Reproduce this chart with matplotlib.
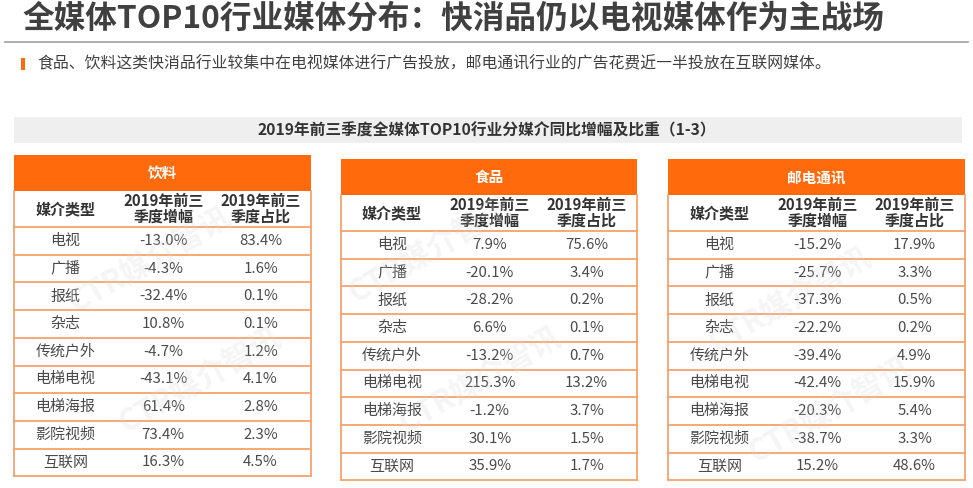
import matplotlib.pyplot as plt
from matplotlib.patches import Rectangle

plt.rcParams['font.family'] = ['Noto Sans CJK SC', 'DejaVu Sans']

# --- datos ---
title = '全媒体TOP10行业媒体分布：快消品仍以电视媒体作为主战场'
subtitle = '食品、饮料这类快消品行业较集中在电视媒体进行广告投放，邮电通讯行业的广告花费近一半投放在互联网媒体。'
banner = '2019年前三季度全媒体TOP10行业分媒介同比增幅及比重（1-3）'
col_headers = ['媒介类型', '2019年前三\n季度增幅', '2019年前三\n季度占比']
media = ['电视', '广播', '报纸', '杂志', '传统户外', '电梯电视', '电梯海报', '影院视频', '互联网']
industries = ['饮料', '食品', '邮电通讯']
growth_drink = ['-13.0%', '-4.3%', '-32.4%', '10.8%', '-4.7%', '-43.1%', '61.4%', '73.4%', '16.3%']
share_drink = ['83.4%', '1.6%', '0.1%', '0.1%', '1.2%', '4.1%', '2.8%', '2.3%', '4.5%']
growth_food = ['7.9%', '-20.1%', '-28.2%', '6.6%', '-13.2%', '215.3%', '-1.2%', '30.1%', '35.9%']
share_food = ['75.6%', '3.4%', '0.2%', '0.1%', '0.7%', '13.2%', '3.7%', '1.5%', '1.7%']
growth_post = ['-15.2%', '-25.7%', '-37.3%', '-22.2%', '-39.4%', '-42.4%', '-20.3%', '-38.7%', '15.2%']
share_post = ['17.9%', '3.3%', '0.5%', '0.2%', '4.9%', '15.9%', '5.4%', '3.3%', '48.6%']

ORANGE = '#FF6A0D'
LINE = '#F5A36C'
TXT = '#4a4a4a'


def draw_table(ax, x0, x1, y0, name, growth, share):
    w = x1 - x0
    head_h = 36
    colh_h = 36
    row_h = 27.7
    col_x = [x0, x0 + w * 0.345, x0 + w * 0.66, x1]
    # cabecera naranja
    ax.add_patch(Rectangle((x0, y0), w, head_h, facecolor=ORANGE, edgecolor='none', zorder=1))
    ax.text((x0 + x1) / 2, y0 + head_h / 2, name, color='white', fontsize=10.5,
            fontweight='bold', ha='center', va='center', zorder=3)
    y = y0 + head_h
    for j, h in enumerate(col_headers):
        ax.text((col_x[j] + col_x[j + 1]) / 2, y + colh_h / 2, h, color='#333333',
                fontsize=10.8, fontweight='bold', ha='center', va='center',
                linespacing=1.0, zorder=3)
    y += colh_h
    ax.plot([x0, x1], [y, y], color=LINE, lw=1.3, zorder=2)
    for i, m in enumerate(media):
        yc = y + row_h * (i + 0.5)
        for j, v in enumerate([m, growth[i], share[i]]):
            ax.text((col_x[j] + col_x[j + 1]) / 2, yc, v, color=TXT, fontsize=10.8,
                    ha='center', va='center', zorder=3)
        ax.plot([x0, x1], [y + row_h * (i + 1)] * 2, color=LINE, lw=1.3, zorder=2)
    y_end = y + row_h * len(media)
    ax.plot([x0, x0], [y0 + head_h, y_end], color=LINE, lw=1.3, zorder=2)
    ax.plot([x1, x1], [y0 + head_h, y_end], color=LINE, lw=1.3, zorder=2)


fig = plt.figure(figsize=(9.73, 4.88), dpi=100)
ax = fig.add_axes([0, 0, 1, 1])
ax.set_xlim(0, 973)
ax.set_ylim(488, 0)
ax.axis('off')

# titulo y subtitulo
ax.text(22, 19, title, fontsize=22.8, fontweight='bold', color='#404040',
        ha='left', va='center')
ax.plot([5, 968], [42, 42], color='#a0a0a0', lw=1.2)
ax.add_patch(Rectangle((21, 58), 4, 12, facecolor=ORANGE, edgecolor='none'))
ax.text(37, 64, subtitle, fontsize=11.4, color='#404040', ha='left', va='center')

# banda gris
ax.add_patch(Rectangle((14, 117), 948, 26, facecolor='#EFEFEF', edgecolor='none'))
ax.text(487, 130, banner, fontsize=11.3, fontweight='bold', color='#333333',
        ha='center', va='center')

draw_table(ax, 14, 311, 155, industries[0], growth_drink, share_drink)
draw_table(ax, 341, 637, 159, industries[1], growth_food, share_food)
draw_table(ax, 668, 965, 159, industries[2], growth_post, share_post)

# marca de agua
for (wx, wy) in [(150, 260), (200, 380), (430, 250), (480, 380), (790, 300), (830, 410)]:
    ax.text(wx, wy, 'CTR媒介智讯', fontsize=22, fontweight='bold', color='#D8D8D8',
            alpha=0.25, rotation=30, ha='center', va='center', zorder=4)

fig.savefig('out.png', dpi=100)
